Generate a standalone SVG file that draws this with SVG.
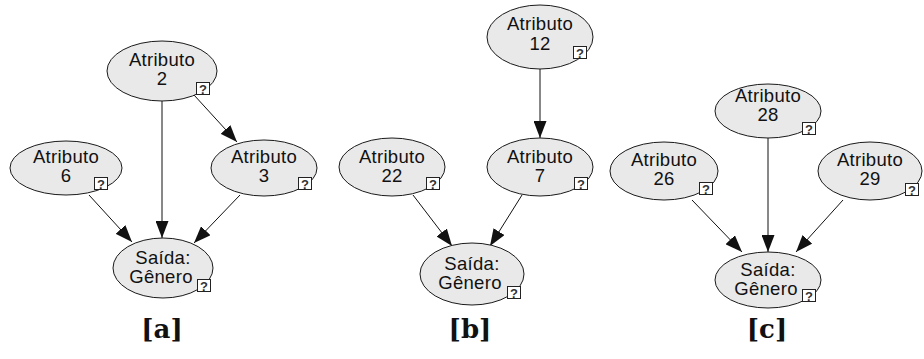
<svg xmlns="http://www.w3.org/2000/svg" width="924" height="359" viewBox="0 0 924 359">
  <style>
    .node ellipse { fill: #e9e9e9; stroke: #1a1a1a; stroke-width: 1; }
    .node text { font-family: "Liberation Sans", Arial, sans-serif; font-size: 18.5px; letter-spacing: 0.3px; fill: #111; text-anchor: middle; }
    .edges line { stroke: #111; stroke-width: 1; marker-end: url(#arrow); }
    .label { font-family: "DejaVu Serif", "Liberation Serif", serif; font-weight: bold; font-size: 26px; fill: #111; text-anchor: middle; }
  </style>
  <defs>
    <marker id="arrow" viewBox="0 0 17 13" refX="17" refY="6.5" markerWidth="17" markerHeight="13" markerUnits="userSpaceOnUse" orient="auto">
      <path d="M0,0 L17,6.5 L0,13 z" fill="#111"/>
    </marker>
    <!-- small "?" status badge shown on each node -->
    <g id="qbox">
      <rect x="0.5" y="0.5" width="13" height="12" fill="#ffffff" stroke="#222222" stroke-width="1"/>
      <text x="7" y="11.5" font-family="Liberation Sans, Arial, sans-serif" font-size="13" font-weight="bold" fill="#333333" text-anchor="middle">?</text>
    </g>
  </defs>
  <rect width="924" height="359" fill="#ffffff"/>

  <!-- connectors -->
  <g class="edges">
    <!-- network a -->
    <line x1="162" y1="101" x2="162" y2="238"/>
    <line x1="194" y1="95" x2="237" y2="142"/>
    <line x1="89" y1="195" x2="132" y2="242"/>
    <line x1="240" y1="195" x2="194" y2="243"/>
    <!-- network b -->
    <line x1="540" y1="69" x2="540" y2="138"/>
    <line x1="413" y1="195" x2="452" y2="246"/>
    <line x1="522" y1="195" x2="490" y2="246"/>
    <!-- network c -->
    <line x1="768" y1="137" x2="768" y2="252"/>
    <line x1="692" y1="200" x2="742" y2="252"/>
    <line x1="843" y1="200" x2="796" y2="252"/>
  </g>

  <!-- network a -->
  <g id="a-atributo2" class="node">
    <ellipse cx="162" cy="71" rx="55" ry="30"/>
    <text x="162" y="66">Atributo</text>
    <text x="162" y="85">2</text>
    <use href="#qbox" x="196" y="82"/>
  </g>
  <g id="a-atributo6" class="node">
    <ellipse cx="66" cy="168" rx="56" ry="27"/>
    <text x="66" y="163">Atributo</text>
    <text x="66" y="182">6</text>
    <use href="#qbox" x="94" y="177"/>
  </g>
  <g id="a-atributo3" class="node">
    <ellipse cx="264" cy="168" rx="53" ry="28"/>
    <text x="264" y="163">Atributo</text>
    <text x="264" y="182">3</text>
    <use href="#qbox" x="298" y="177"/>
  </g>
  <g id="a-saida" class="node">
    <ellipse cx="163" cy="268" rx="50" ry="30"/>
    <text x="163" y="264">Saída:</text>
    <text x="161" y="283">Gênero</text>
    <use href="#qbox" x="197" y="279"/>
  </g>

  <!-- network b -->
  <g id="b-atributo12" class="node">
    <ellipse cx="540" cy="37" rx="53" ry="32"/>
    <text x="540" y="30">Atributo</text>
    <text x="540" y="50">12</text>
    <use href="#qbox" x="573" y="46"/>
  </g>
  <g id="b-atributo22" class="node">
    <ellipse cx="392" cy="167" rx="53" ry="29"/>
    <text x="392" y="163">Atributo</text>
    <text x="392" y="182">22</text>
    <use href="#qbox" x="426" y="177"/>
  </g>
  <g id="b-atributo7" class="node">
    <ellipse cx="540" cy="167" rx="53" ry="29"/>
    <text x="540" y="163">Atributo</text>
    <text x="540" y="182">7</text>
    <use href="#qbox" x="574" y="177"/>
  </g>
  <g id="b-saida" class="node">
    <ellipse cx="472" cy="274" rx="52" ry="31"/>
    <text x="472" y="270">Saída:</text>
    <text x="470" y="289">Gênero</text>
    <use href="#qbox" x="507" y="286"/>
  </g>

  <!-- network c -->
  <g id="c-atributo28" class="node">
    <ellipse cx="768" cy="111" rx="53" ry="27"/>
    <text x="768" y="102">Atributo</text>
    <text x="768" y="121">28</text>
    <use href="#qbox" x="802" y="122"/>
  </g>
  <g id="c-atributo26" class="node">
    <ellipse cx="664" cy="171" rx="54" ry="29"/>
    <text x="664" y="166">Atributo</text>
    <text x="664" y="185">26</text>
    <use href="#qbox" x="699" y="182"/>
  </g>
  <g id="c-atributo29" class="node">
    <ellipse cx="870" cy="171" rx="52" ry="29"/>
    <text x="870" y="166">Atributo</text>
    <text x="870" y="185">29</text>
    <use href="#qbox" x="905" y="183"/>
  </g>
  <g id="c-saida" class="node">
    <ellipse cx="768" cy="280" rx="53" ry="28"/>
    <text x="768" y="276">Saída:</text>
    <text x="766" y="295">Gênero</text>
    <use href="#qbox" x="802" y="289"/>
  </g>

  <!-- panel captions -->
  <text class="label" x="162" y="338">[a]</text>
  <text class="label" x="470" y="338">[b]</text>
  <text class="label" x="767" y="338">[c]</text>
</svg>
